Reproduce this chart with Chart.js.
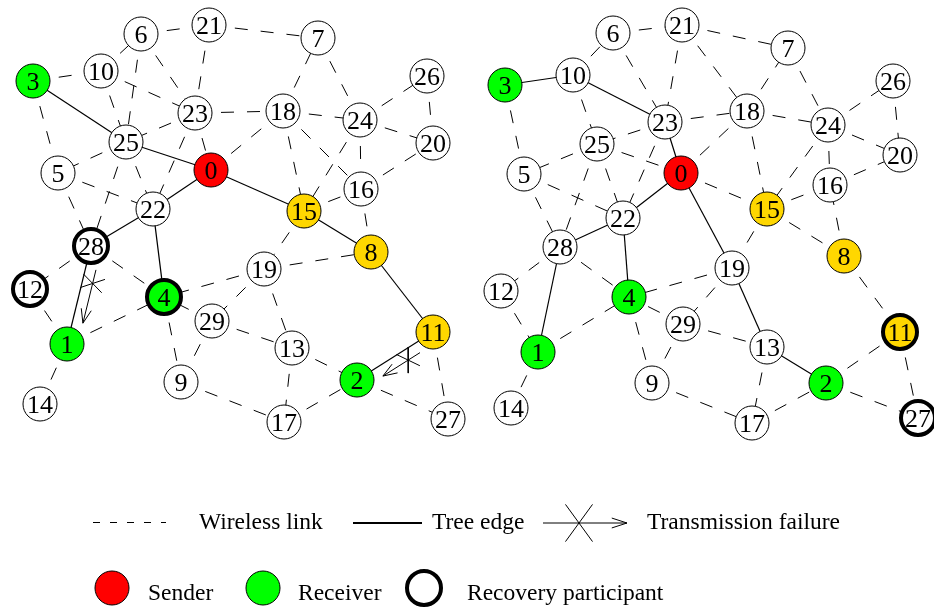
<!DOCTYPE html>
<html>
<head>
<meta charset="utf-8">
<script src="https://cdn.jsdelivr.net/npm/chart.js@4.4.1/dist/chart.umd.min.js"></script>
<style>
  html, body { margin: 0; padding: 0; background: #ffffff; }
  #wrap { width: 934px; height: 609px; }
</style>
</head>
<body>
<div id="wrap"><canvas id="c" width="934" height="609"></canvas></div>
<script>
// ---------------- DATA ----------------
const nodeIds = [0,1,2,3,4,5,6,7,8,9,10,11,12,13,14,15,16,17,18,19,20,21,22,23,24,25,26,27,28,29];

// Left snapshot: node positions (field coordinates)
const leftX  = [211,67,357,33,164,58,141,318,371,181,101,433,30,292,40,304,361,284,283,264,433,209,153,195,360,126,427,448,91,212];
const leftY  = [170,344,380,81,297,173,34,38,252,382,71,332,289,348,404,211,189,422,111,269,143,25,209,113,120,142,76,419,246,321];

// Right snapshot: node positions
const rightX = [681,538,826,505,629,524,613,788,844,652,573,900,501,767,511,767,830,752,747,732,900,682,623,665,828,597,893,918,560,683];
const rightY = [173,352,383,85,297,174,33,48,256,383,75,332,291,347,408,209,185,423,111,268,155,25,218,122,125,144,81,418,247,324];

// Roles
const senderNodes = [0];
const receiverNodes = [1,2,3,4];
const leftForwarders = [8,11,15];
const rightForwarders = [8,11,15];
const leftRecovery = [4,12,28];
const rightRecovery = [11,27];

// Edges
const leftTree = [[3,25],[25,0],[0,22],[22,28],[28,1],[22,4],[0,15],[15,8],[8,11],[11,2]];
const leftLinks = [[3,10],[3,5],[10,6],[6,21],[6,23],[6,25],[10,23],[10,25],[21,23],[21,7],[23,18],[23,25],[23,0],[23,22],
  [25,5],[25,22],[25,28],[5,22],[5,28],[0,18],[18,7],[18,24],[18,15],[18,16],[7,24],[24,26],[24,20],[24,16],[24,15],
  [26,20],[16,20],[15,16],[8,16],[15,19],[19,8],[19,4],[19,29],[19,13],[29,4],[29,9],[29,13],[4,9],[28,12],[28,4],
  [12,1],[1,4],[1,14],[9,17],[13,2],[13,17],[17,2],[2,27],[11,27]];
const leftFailures = [[28,1],[11,2]];

const rightTree = [[3,10],[10,23],[23,0],[0,22],[22,28],[28,1],[22,4],[0,19],[19,13],[13,2]];
const rightLinks = [[3,5],[10,6],[6,21],[6,23],[10,25],[21,23],[21,18],[21,7],[23,18],[23,25],[23,22],[25,5],[25,0],
  [25,22],[25,28],[5,22],[5,28],[0,18],[0,15],[18,7],[18,24],[18,15],[7,24],[24,26],[24,20],[24,16],[24,15],[26,20],
  [16,20],[15,16],[8,16],[15,8],[15,19],[8,11],[19,4],[19,29],[29,4],[29,9],[29,13],[4,9],[28,12],[28,4],[12,1],[1,4],
  [1,14],[9,17],[13,17],[17,2],[2,11],[2,27],[11,27]];
const rightFailures = [];

const legendLabels = ['Wireless link','Tree edge','Transmission failure','Sender','Receiver','Recovery participant'];

// ---------------- STYLE / LAYOUT ----------------
const NODE_R = 17;
const COL_SENDER = '#ff0000', COL_RECV = '#00ff00', COL_FWD = '#ffd700', COL_NONE = '#ffffff';
const LINK_DASH = [13, 13];
const SERIF = '"Liberation Serif", "Times New Roman", serif';

const datasets = [];

function seg(p, q, dash, width, order) {
  datasets.push({
    type: 'scatter', showLine: true, data: [p, q], borderColor: '#000', borderWidth: width || 1,
    borderDash: dash || [], pointRadius: 0, pointHoverRadius: 0, fill: false, tension: 0, order: order, clip: false
  });
}
function poly(pts, width, order) {
  datasets.push({
    type: 'scatter', showLine: true, data: pts, borderColor: '#000', borderWidth: width || 1,
    pointRadius: 0, pointHoverRadius: 0, fill: false, tension: 0, order: order, clip: false
  });
}

function addGraph(xs, ys, tree, links, fails, fwd, rec) {
  const P = i => ({ x: xs[i], y: ys[i] });
  links.forEach(([a, b]) => seg(P(a), P(b), LINK_DASH, 1, 3));
  tree.forEach(([a, b]) => seg(P(a), P(b), [], 1.2, 3));
  fails.forEach(([a, b]) => addFailArrow(P(a), P(b)));
  const bg = nodeIds.map(i => senderNodes.includes(i) ? COL_SENDER : receiverNodes.includes(i) ? COL_RECV :
    fwd.includes(i) ? COL_FWD : COL_NONE);
  const bw = nodeIds.map(i => rec.includes(i) ? 4 : 1);
  datasets.push({
    type: 'scatter', data: nodeIds.map(P), pointRadius: NODE_R, pointHoverRadius: NODE_R,
    pointBackgroundColor: bg, pointBorderColor: '#000', pointBorderWidth: bw, pointHoverBorderWidth: bw,
    order: 0, clip: false, nodeLabels: nodeIds.map(String)
  });
}

function arrowParts(s, e, head, headAng, xc, xHalf, xAng) {
  const L = Math.hypot(e.x - s.x, e.y - s.y);
  const dx = (e.x - s.x) / L, dy = (e.y - s.y) / L;
  const nx = dy, ny = -dx;
  poly([s, e], 1, 1);
  const ca = Math.cos(headAng), sa = Math.sin(headAng);
  poly([
    { x: e.x - head * (dx * ca + nx * sa), y: e.y - head * (dy * ca + ny * sa) },
    e,
    { x: e.x - head * (dx * ca - nx * sa), y: e.y - head * (dy * ca - ny * sa) }
  ], 1, 1);
  const c = { x: s.x + dx * xc, y: s.y + dy * xc };
  const cb = Math.cos(xAng), sb = Math.sin(xAng);
  const u1 = { x: dx * cb + nx * sb, y: dy * cb + ny * sb };
  const u2 = { x: dx * cb - nx * sb, y: dy * cb - ny * sb };
  poly([{ x: c.x - u1.x * xHalf, y: c.y - u1.y * xHalf }, { x: c.x + u1.x * xHalf, y: c.y + u1.y * xHalf }], 1, 1);
  poly([{ x: c.x - u2.x * xHalf, y: c.y - u2.y * xHalf }, { x: c.x + u2.x * xHalf, y: c.y + u2.y * xHalf }], 1, 1);
}

function addFailArrow(a, b) {
  const L = Math.hypot(b.x - a.x, b.y - a.y);
  const dx = (b.x - a.x) / L, dy = (b.y - a.y) / L;
  const nx = dy, ny = -dx, OFF = 10.5;
  const s = { x: a.x + dx * 22 + nx * OFF, y: a.y + dy * 22 + ny * OFF };
  const e = { x: a.x + dx * (L - 24) + nx * OFF, y: a.y + dy * (L - 24) + ny * OFF };
  arrowParts(s, e, 15, 20 * Math.PI / 180, 14, 13, 58 * Math.PI / 180);
}

addGraph(leftX, leftY, leftTree, leftLinks, leftFailures, leftForwarders, leftRecovery);
addGraph(rightX, rightY, rightTree, rightLinks, rightFailures, rightForwarders, rightRecovery);

// Legend symbols (layout)
const LG1 = 522.5, LG2 = 588;
seg({ x: 93, y: LG1 }, { x: 166, y: LG1 }, [7, 10], 1, 1);
seg({ x: 353, y: LG1 + 0.5 }, { x: 422, y: LG1 + 0.5 }, [], 2, 1);
arrowParts({ x: 543, y: LG1 + 0.5 }, { x: 627, y: LG1 + 0.5 }, 16, 18 * Math.PI / 180, 36, 23, 54 * Math.PI / 180);
datasets.push({
  type: 'scatter', data: [{ x: 112, y: LG2 }, { x: 263, y: LG2 }, { x: 424, y: LG2 }],
  pointRadius: NODE_R, pointHoverRadius: NODE_R, pointBackgroundColor: [COL_SENDER, COL_RECV, COL_NONE],
  pointBorderColor: '#000', pointBorderWidth: [1, 1, 4], pointHoverBorderWidth: [1, 1, 4], order: 0, clip: false
});
const legendTextPos = [[199, 529], [432, 529], [647, 529], [148, 600], [298, 600], [467, 600]];

const labelPlugin = {
  id: 'nodeLabels',
  afterDatasetsDraw(chart) {
    const ctx = chart.ctx;
    ctx.save();
    ctx.fillStyle = '#000';
    ctx.textAlign = 'center';
    ctx.textBaseline = 'alphabetic';
    ctx.font = '26px ' + SERIF;
    chart.data.datasets.forEach((ds, i) => {
      if (!ds.nodeLabels) return;
      const meta = chart.getDatasetMeta(i);
      meta.data.forEach((el, j) => ctx.fillText(ds.nodeLabels[j], el.x, el.y + 9));
    });
    ctx.textAlign = 'left';
    ctx.font = '23.5px ' + SERIF;
    const xs = chart.scales.x, ys = chart.scales.y;
    legendLabels.forEach((t, k) => {
      ctx.fillText(t, xs.getPixelForValue(legendTextPos[k][0]), ys.getPixelForValue(legendTextPos[k][1]));
    });
    ctx.restore();
  }
};

new Chart(document.getElementById('c'), {
  type: 'scatter',
  data: { datasets: datasets },
  options: {
    responsive: false,
    animation: false,
    devicePixelRatio: 1,
    events: [],
    layout: { padding: 0, autoPadding: false },
    plugins: { legend: { display: false }, tooltip: { enabled: false } },
    scales: {
      x: { type: 'linear', min: 0, max: 934, display: false },
      y: { type: 'linear', min: 0, max: 609, reverse: true, display: false }
    }
  },
  plugins: [labelPlugin]
});
</script>
</body>
</html>
